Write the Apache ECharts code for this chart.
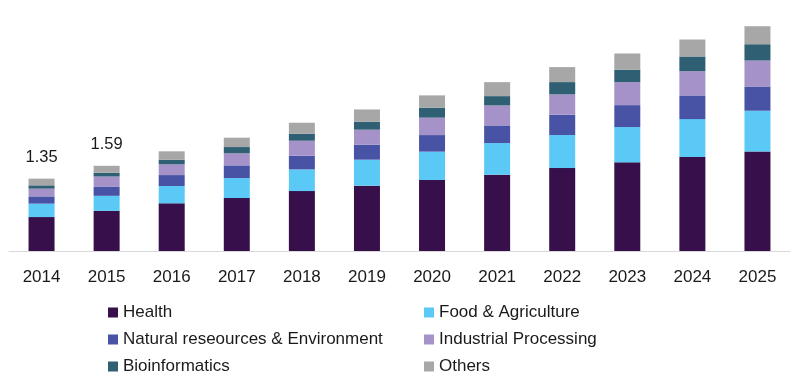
<!DOCTYPE html>
<html>
<head>
<meta charset="utf-8">
<script src="https://cdn.jsdelivr.net/npm/echarts@6/dist/echarts.min.js"></script>
<style>
html,body{margin:0;padding:0;background:#fff;}
#chart{width:800px;height:382px;}
</style>
</head>
<body>
<div id="chart"></div>
<script>
const years = ['2014','2015','2016','2017','2018','2019','2020','2021','2022','2023','2024','2025'];
const seriesNames = ['Health','Food & Agriculture','Natural reseources & Environment','Industrial Processing','Bioinformatics','Others'];
const health     = [0.634, 0.750, 0.890, 0.989, 1.119, 1.220, 1.325, 1.425, 1.549, 1.655, 1.754, 1.860];
const food       = [0.250, 0.280, 0.323, 0.373, 0.405, 0.485, 0.530, 0.590, 0.616, 0.659, 0.709, 0.759];
const natural    = [0.136, 0.174, 0.205, 0.237, 0.255, 0.280, 0.310, 0.330, 0.380, 0.410, 0.442, 0.453];
const industrial = [0.144, 0.187, 0.200, 0.224, 0.280, 0.280, 0.325, 0.373, 0.379, 0.429, 0.453, 0.485];
const bioinf     = [0.062, 0.069, 0.088, 0.118, 0.131, 0.149, 0.187, 0.174, 0.230, 0.231, 0.274, 0.304];
const others     = [0.125, 0.131, 0.155, 0.175, 0.205, 0.229, 0.229, 0.261, 0.280, 0.304, 0.317, 0.336];
const totalLabels = ['1.35', '1.59'];
const colors = ['#360F4B', '#5BC9F5', '#4953A5', '#A592C8', '#2F5F72', '#A7A7A7'];

const values = [health, food, natural, industrial, bioinf, others];
const font = 'Liberation Sans, Arial, sans-serif';

const series = values.map((arr, si) => ({
  name: seriesNames[si],
  type: 'bar',
  stack: 'total',
  barWidth: 26,
  itemStyle: { color: colors[si] },
  data: arr.map((v, i) => {
    if (si === values.length - 1 && i < totalLabels.length) {
      return { value: v, label: { show: true, position: 'top', distance: 13, formatter: totalLabels[i],
        fontFamily: font, fontSize: 16.5, color: '#1a1a1a', lineHeight: 16 } };
    }
    return v;
  })
}));

const chart = echarts.init(document.getElementById('chart'), null, { renderer: 'canvas' });
chart.setOption({
  animation: false,
  color: colors,
  grid: { left: 9, right: 10, top: 10, bottom: 131, containLabel: false },
  xAxis: {
    type: 'category',
    data: years,
    axisLine: { show: true, lineStyle: { color: '#D9D9D9', width: 1 } },
    axisTick: { show: false },
    axisLabel: { fontFamily: font, fontSize: 17, color: '#1a1a1a', margin: 18 }
  },
  yAxis: { type: 'value', min: 0, max: 4.5, show: false, splitLine: { show: false } },
  legend: [
    {
      data: [seriesNames[0], seriesNames[2], seriesNames[4]],
      orient: 'vertical', left: 108, top: 304, itemWidth: 10, itemHeight: 10, itemGap: 10,
      icon: 'rect', padding: [0, 0, 0, 0],
      textStyle: { fontFamily: font, fontSize: 17, color: '#1a1a1a', lineHeight: 17 }
    },
    {
      data: [seriesNames[1], seriesNames[3], seriesNames[5]],
      orient: 'vertical', left: 424, top: 304, itemWidth: 10, itemHeight: 10, itemGap: 10,
      icon: 'rect', padding: [0, 0, 0, 0],
      textStyle: { fontFamily: font, fontSize: 17, color: '#1a1a1a', lineHeight: 17 }
    }
  ],
  series: series
});
</script>
</body>
</html>
